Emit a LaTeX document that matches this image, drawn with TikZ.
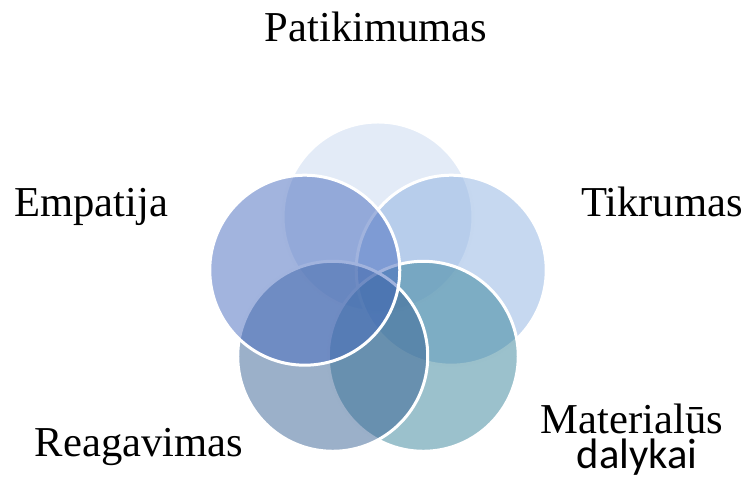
\documentclass[tikz,border=0pt]{standalone}
\usepackage{fontspec}
\setmainfont{Liberation Serif}
\newfontfamily\carlito{Carlito}
\usetikzlibrary{positioning}

\definecolor{topblue}{RGB}{199,215,239}
\definecolor{rightblue}{RGB}{141,177,225}
\definecolor{teal}{RGB}{55,131,153}
\definecolor{slate}{RGB}{55,97,147}
\definecolor{leftblue}{RGB}{69,105,189}

\tikzset{
    petal/.style={circle, draw=white, line width=1.5pt, fill opacity=0.5,
        draw opacity=1, inner sep=0pt, minimum size=95pt},
    lbl/.style={anchor=base, inner sep=0pt, font={\fontsize{21.3}{25}\selectfont}}
}

\begin{document}
\begin{tikzpicture}[x=0.5pt, y=0.5pt]
    \useasboundingbox (0,0) rectangle (746,485);
    \coordinate (c) at (378,191);

    % circles, clockwise from the top
    \node [petal, fill=topblue] (patik) at ([shift={(90:77)}]c) {};
    \node [petal, fill=rightblue] (tikr) at ([shift={(18:77)}]c) {};
    \node [petal, fill=teal] (mater) at ([shift={(-54:77)}]c) {};
    \node [petal, fill=slate] (reag) at ([shift={(-126:77)}]c) {};
    \node [petal, fill=leftblue] (emp) at ([shift={(162:77)}]c) {};

    % labels
    \node [lbl] (patik_l) at (376,443) {Patikimumas};
    \node [lbl] (tikr_l) at (662,268) {Tikrumas};
    \node [lbl] (emp_l) at (91,268) {Empatija};
    \node [lbl] (reag_l) at (139,28) {Reagavimas};
    \node [lbl] (mater_l) at (632,51) {Materialūs};
    \node [lbl, font={\carlito\fontsize{21.3}{25}\selectfont}] (mater_l2) at (637,16) {dalykai};
\end{tikzpicture}
\end{document}
